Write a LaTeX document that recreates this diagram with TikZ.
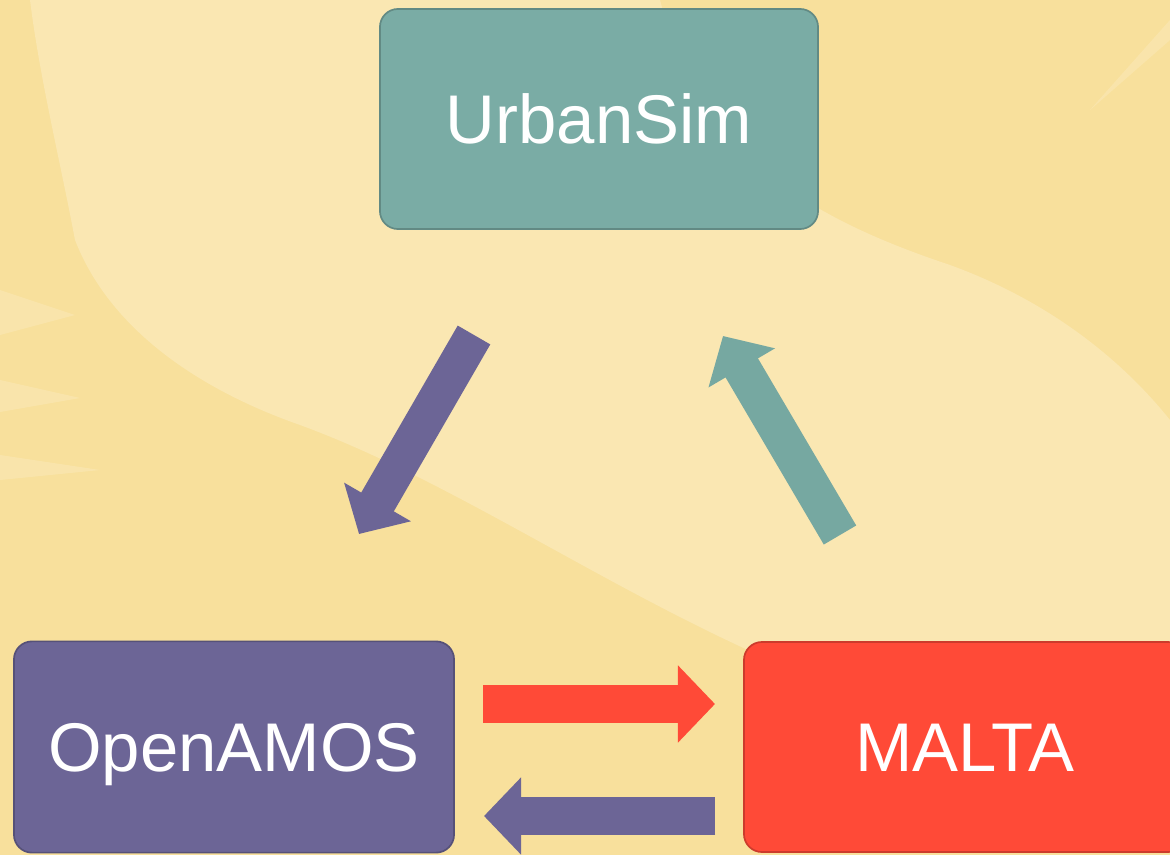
\documentclass[tikz,border=0pt]{standalone}
\usepackage{fontspec}
\setmainfont{Liberation Sans}
\usetikzlibrary{arrows.meta}

\definecolor{BackgroundColor}{rgb}{0.973,0.878,0.612}
\definecolor{SwooshColor}{rgb}{0.980,0.906,0.698}
\definecolor{UrbanSimColor}{rgb}{0.478,0.675,0.647}
\definecolor{OpenAMOSColor}{rgb}{0.424,0.396,0.588}
\definecolor{MaltaColor}{rgb}{1.0,0.290,0.216}
\definecolor{ArrowTealColor}{rgb}{0.463,0.659,0.631}
\tikzstyle{model-base}=[rectangle,
                         rounded corners=0.45cm,
                         text=white,
                         text centered,
                         font=\fontsize{49}{58}\selectfont,
                         text height=35pt,
                         text depth=0pt,
                         line width=1.2pt
                        ]
\tikzstyle{urbansim}=[model-base,
                       fill={UrbanSimColor},
                       draw={UrbanSimColor!80!black},
                       minimum width=10.95cm,
                       minimum height=5.5cm]
\tikzstyle{openamos}=[model-base,
                       fill={OpenAMOSColor},
                       draw={OpenAMOSColor!80!black},
                       minimum width=11cm,
                       minimum height=5.28cm]
\tikzstyle{malta}=[model-base,
                    fill={MaltaColor},
                    draw={MaltaColor!80!black},
                    minimum width=11.05cm,
                    minimum height=5.25cm]
\tikzstyle{flow}=[line width=0.94cm,
                   -{Triangle[width=1.875cm, length=0.925cm]}]
\tikzstyle{leaf}=[SwooshColor, opacity=0.7]

\begin{document}
\begin{tikzpicture}[x=0.025cm, y=-0.025cm]
    % Background
    % --------------------------------------------------------------------------
    \useasboundingbox (0,0) rectangle (1170,855);
    \clip (0,0) rectangle (1170,855);
    \fill[BackgroundColor] (0,0) rectangle (1170,855);
    \fill[SwooshColor] (30,0) -- (660,0)
        .. controls (700,150) and (800,215) .. (950,265)
        .. controls (1060,305) and (1130,370) .. (1170,420)
        -- (1170,660) -- (770,660)
        .. controls (600,585) and (450,480) .. (300,425)
        .. controls (200,390) and (110,330) .. (75,240)
        .. controls (60,160) and (40,80) .. cycle;
    \fill[leaf] (0,290) -- (75,315) -- (0,335) -- cycle;
    \fill[leaf] (0,380) -- (80,398) -- (0,412) -- cycle;
    \fill[leaf] (0,455) -- (100,470) -- (0,480) -- cycle;
    \fill[leaf] (1170,40) -- (1090,110) -- (1170,20) -- cycle;

    % Models
    % --------------------------------------------------------------------------
    \node at (599, 119) (urbansim) [urbansim] {UrbanSim};
    \node at (234, 747) (openamos) [openamos] {OpenAMOS};
    \node at (965, 747) (malta)    [malta]    {MALTA};

    \coordinate (urbansim_out)  at (474, 335);
    \coordinate (openamos_in)   at (359, 534);
    \coordinate (malta_up)      at (840, 535);
    \coordinate (urbansim_in)   at (723, 336);
    \coordinate (openamos_out)  at (483, 704);
    \coordinate (malta_in)      at (715, 704);
    \coordinate (malta_out)     at (715, 816);
    \coordinate (openamos_back) at (484, 816);

    % Arrows
    % --------------------------------------------------------------------------
    \draw[flow, OpenAMOSColor]  (urbansim_out) -- (openamos_in);
    \draw[flow, ArrowTealColor] (malta_up)     -- (urbansim_in);
    \draw[flow, MaltaColor]     (openamos_out) -- (malta_in);
    \draw[flow, OpenAMOSColor]  (malta_out)    -- (openamos_back);
\end{tikzpicture}
\end{document}
